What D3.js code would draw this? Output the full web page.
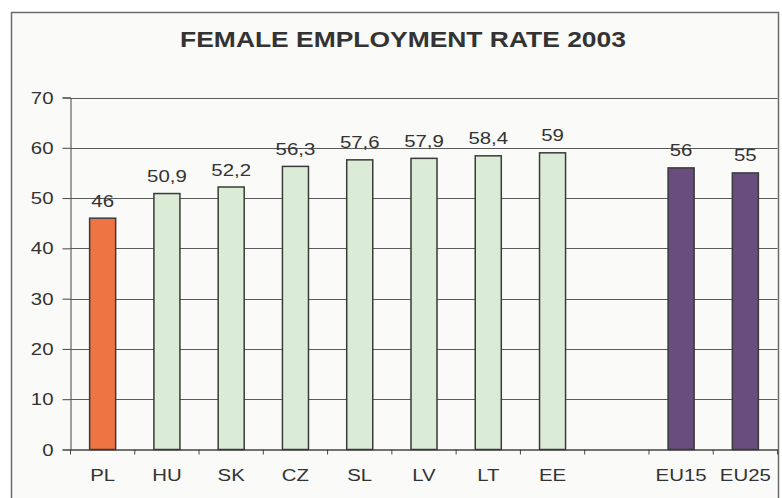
<!DOCTYPE html>
<html>
<head>
<meta charset="utf-8">
<script src="https://cdn.jsdelivr.net/npm/d3@7/dist/d3.min.js"></script>
<style>
  html, body { margin: 0; padding: 0; background: #ffffff; }
  svg { display: block; }
</style>
</head>
<body>
<svg id="chart" width="782" height="498"></svg>
<script>
const title = "FEMALE EMPLOYMENT RATE 2003";
const categories = ["PL", "HU", "SK", "CZ", "SL", "LV", "LT", "EE", "", "EU15", "EU25"];
const values = [46, 50.9, 52.2, 56.3, 57.6, 57.9, 58.4, 59, null, 56, 55];
const groups = ["pl", "new", "new", "new", "new", "new", "new", "new", "none", "eu", "eu"];
const yTicks = [0, 10, 20, 30, 40, 50, 60, 70];

const colors = { pl: "#ef7443", new: "#dbecd6", eu: "#6a4d7f" };
const textColor = "#333333";
const sx = 1.2; // horizontal stretch of the original's lettering

const svg = d3.select("#chart");

// frame
svg.append("rect")
  .attr("x", 11.5).attr("y", 12.5)
  .attr("width", 767).attr("height", 500)
  .attr("fill", "#fafaf8")
  .attr("stroke", "#6b6b6b")
  .attr("stroke-width", 1.5);

const x = d3.scaleBand()
  .domain(categories)
  .range([70.5, 777.5])
  .paddingInner(0.595)
  .paddingOuter(0.2975);

const y = d3.scaleLinear().domain([0, 70]).range([449.5, 97.5]);

const step = x.step();

function stretchedText(g, px, py, str, opts) {
  return g.append("text")
    .attr("transform", `translate(${px},${py}) scale(${opts.sx || sx},1)`)
    .attr("text-anchor", opts.anchor || "middle")
    .attr("font-family", "Liberation Sans, Arial, sans-serif")
    .attr("font-size", opts.size)
    .attr("font-weight", opts.weight || "normal")
    .attr("fill", textColor)
    .text(str);
}

// title
stretchedText(svg, 403, 46.5, title, { size: 21.5, weight: "bold", sx: 1.23 });

// gridlines
svg.append("g")
  .selectAll("line")
  .data(yTicks.filter(d => d > 0))
  .join("line")
  .attr("x1", 70.5).attr("x2", 777.5)
  .attr("y1", d => Math.round(y(d)) + 0.5)
  .attr("y2", d => Math.round(y(d)) + 0.5)
  .attr("stroke", "#5a5a5a")
  .attr("stroke-width", 1);

// y axis
const yAxis = d3.axisLeft(y).tickValues(yTicks).tickSize(8).tickFormat("");
const gy = svg.append("g").attr("transform", "translate(70.5,0)").call(yAxis);
gy.select(".domain").attr("stroke", "#444");
gy.selectAll(".tick line").attr("stroke", "#444");
yTicks.forEach(t => {
  stretchedText(svg, 53.5, y(t) + 6, String(t), { size: 17, anchor: "end" });
});

// x axis baseline and boundary ticks
const xAxis = d3.axisBottom(x).tickSize(0).tickFormat("");
const gx = svg.append("g").attr("transform", `translate(0,${y(0)})`).call(xAxis);
gx.select(".domain").attr("stroke", "#444").attr("stroke-width", 1.5);
const boundaries = categories.map(c => x(c) - (step - x.bandwidth()) / 2)
  .concat([x(categories[categories.length - 1]) + x.bandwidth() + (step - x.bandwidth()) / 2]);
svg.append("g")
  .selectAll("line")
  .data(boundaries)
  .join("line")
  .attr("x1", d => d).attr("x2", d => d)
  .attr("y1", y(0)).attr("y2", y(0) + 5)
  .attr("stroke", "#444");

categories.forEach(c => {
  if (c) stretchedText(svg, x(c) + x.bandwidth() / 2, 480.5, c, { size: 17 });
});

// bars
const data = categories.map((c, i) => ({ c, v: values[i], g: groups[i] })).filter(d => d.v !== null);
svg.append("g")
  .selectAll("rect")
  .data(data)
  .join("rect")
  .attr("x", d => x(d.c))
  .attr("y", d => y(d.v))
  .attr("width", x.bandwidth())
  .attr("height", d => y(0) - y(d.v))
  .attr("fill", d => colors[d.g])
  .attr("stroke", "#3a3a3a")
  .attr("stroke-width", 1.5);

// value labels
const fmt = v => String(v).replace(".", ",");
data.forEach(d => {
  stretchedText(svg, x(d.c) + x.bandwidth() / 2, y(d.v) - 11.5, fmt(d.v), { size: 17 });
});
</script>
</body>
</html>
